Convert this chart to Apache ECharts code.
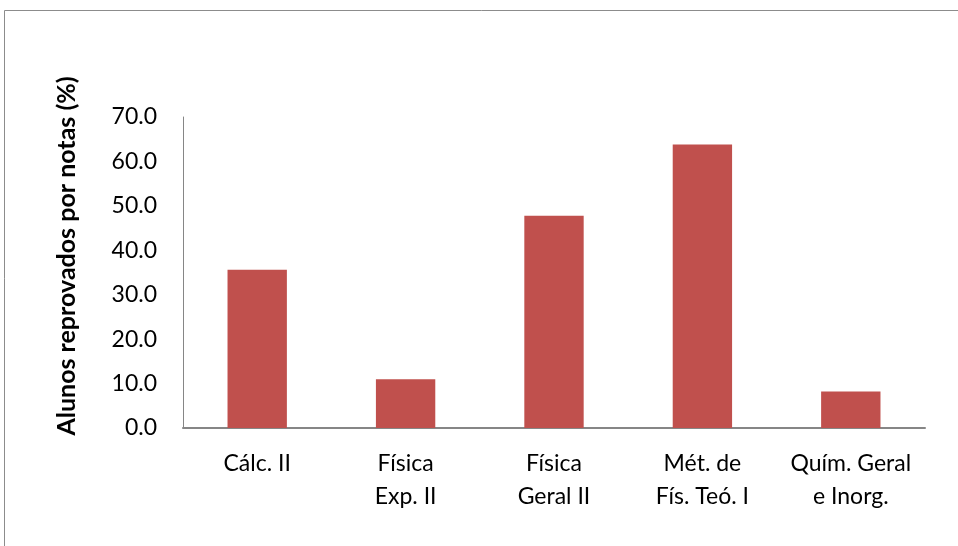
<!DOCTYPE html>
<html>
<head>
<meta charset="utf-8">
<script src="https://cdn.jsdelivr.net/npm/echarts@6/dist/echarts.min.js"></script>
<style>
html,body{margin:0;padding:0;background:#fff;}
#chart{width:958px;height:546px;}
</style>
</head>
<body>
<div id="chart"></div>
<script>
// Disciplinas e percentual de alunos reprovados por notas
const categories = ['Cálc. II', 'Física\nExp. II', 'Física\nGeral II', 'Mét. de\nFís. Teó. I', 'Quím. Geral\ne Inorg.'];
const reprovados = [35.6, 11.0, 47.8, 63.8, 8.2];
const yAxisTitle = 'Alunos reprovados por notas (%)';

const FONT = 'Lato, "Open Sans", sans-serif';
const chart = echarts.init(document.getElementById('chart'), null, {renderer: 'canvas'});

chart.setOption({
  backgroundColor: '#ffffff',
  animation: false,
  graphic: [{
    type: 'rect',
    shape: {x: 4.5, y: 10.5, width: 1000, height: 600},
    style: {fill: 'none', stroke: '#8c8c8c', lineWidth: 1},
    silent: true
  }, {
    // vertical axis title
    type: 'text',
    x: 67, y: 256,
    rotation: Math.PI / 2,
    style: {
      text: yAxisTitle,
      fill: '#000',
      font: 'bold 25px ' + FONT,
      textAlign: 'center',
      textVerticalAlign: 'middle'
    },
    silent: true
  }],
  grid: {left: 183, right: 33, top: 117, bottom: 118, containLabel: false},
  xAxis: {
    type: 'category',
    data: categories,
    axisLine: {lineStyle: {color: '#868686', width: 2}},
    axisTick: {show: false},
    axisLabel: {
      color: '#000', fontFamily: FONT, fontSize: 23, lineHeight: 33,
      margin: 19, interval: 0
    }
  },
  yAxis: {
    type: 'value',
    min: 0, max: 70, interval: 10,
    axisLine: {show: true, lineStyle: {color: '#868686', width: 1}},
    axisTick: {show: false},
    splitLine: {show: false},
    axisLabel: {
      color: '#000', fontFamily: FONT, fontSize: 23, margin: 26,
      formatter: v => v.toFixed(1)
    }
  },
  series: [{
    type: 'bar',
    data: reprovados,
    barWidth: '40%',
    itemStyle: {color: '#c0504d'}
  }]
});
</script>
</body>
</html>
